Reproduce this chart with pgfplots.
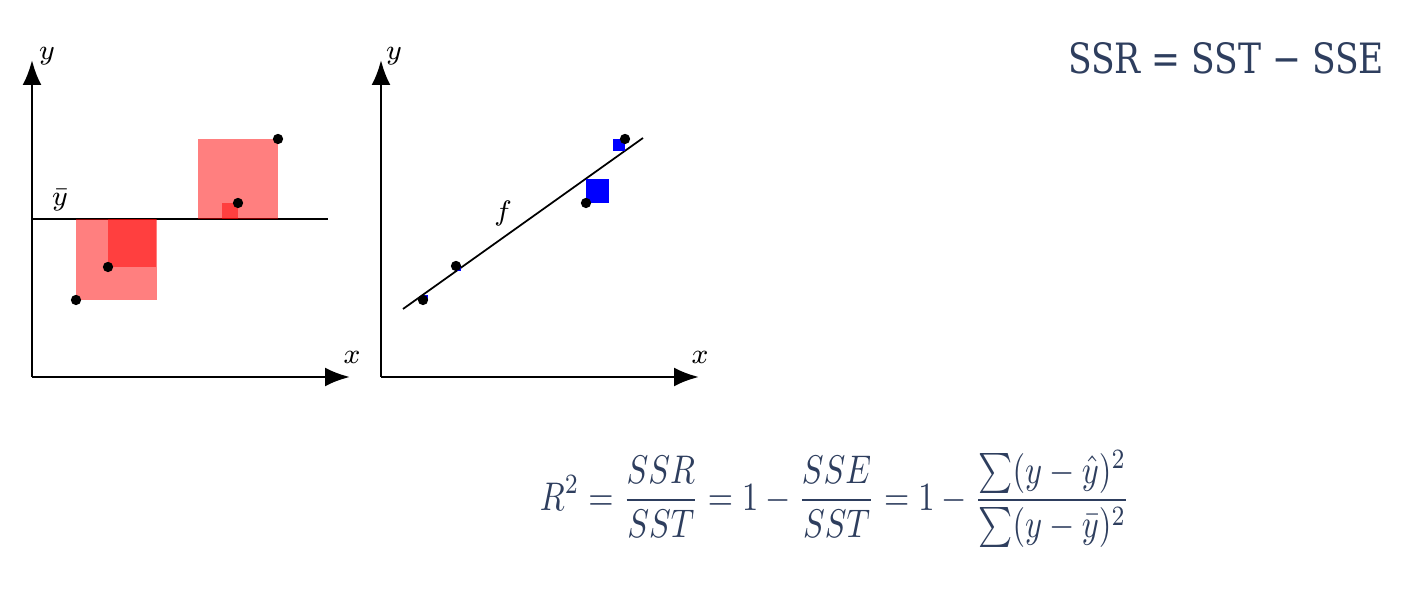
\documentclass[border=0pt]{standalone}
\usepackage{pgfplots}
\pgfplotsset{compat=1.18}
\usepackage{fontspec}
\setmainfont{DejaVu Serif}
\usetikzlibrary{arrows.meta}
\definecolor{navy}{HTML}{2E3E5E}
\begin{document}
\begin{tikzpicture}
\useasboundingbox (0,0) rectangle (14.15,5.90);
\pgfplotsset{diag/.style={
  scale only axis, width=3.18cm, height=3.17cm,
  xmin=0, xmax=318, ymin=0, ymax=317, enlargelimits=false,
  axis lines=left, xtick=\empty, ytick=\empty, clip=false,
  axis line style={line width=0.8pt, -{Latex[length=2.5mm,width=1.9mm]}},
}}
% left diagram
\begin{axis}[diag, anchor=origin, at={(0.32cm,2.13cm)}]
\addplot[black, line width=0.5pt] coordinates {(0,158) (296,158)};
\addplot[only marks, mark=*, mark size=1.25pt, black] coordinates {(44,77) (76,110) (206,174) (246,238)};
\addplot[draw=none, fill=red, fill opacity=0.5] coordinates {(44,77) (125,77) (125,158) (44,158)} -- cycle;
\addplot[draw=none, fill=red, fill opacity=0.5] coordinates {(76,110) (124,110) (124,158) (76,158)} -- cycle;
\addplot[draw=none, fill=red, fill opacity=0.5] coordinates {(190,158) (206,158) (206,174) (190,174)} -- cycle;
\addplot[draw=none, fill=red, fill opacity=0.5] coordinates {(166,158) (246,158) (246,238) (166,238)} -- cycle;
\node[font=\footnotesize] at (axis cs:28,177) {$\bar{y}$};
\node[font=\footnotesize] at (axis cs:15,321) {$y$};
\node[font=\footnotesize] at (axis cs:320,20) {$x$};
\end{axis}
% right diagram
\begin{axis}[diag, anchor=origin, at={(3.81cm,2.13cm)}]
\addplot[black, line width=0.5pt] coordinates {(22,68) (262,239)};
\addplot[only marks, mark=*, mark size=1.25pt, black] coordinates {(42,77) (75,111) (205,174) (244,238)};
\addplot[draw=none, fill=blue] coordinates {(42,77) (47,77) (47,82) (42,82)} -- cycle;
\addplot[draw=none, fill=blue] coordinates {(75,106) (80,106) (80,111) (75,111)} -- cycle;
\addplot[draw=none, fill=blue] coordinates {(205,174) (228,174) (228,198) (205,198)} -- cycle;
\addplot[draw=none, fill=blue] coordinates {(232,226) (244,226) (244,238) (232,238)} -- cycle;
\node[font=\footnotesize] at (axis cs:122,164) {$f$};
\node[font=\footnotesize] at (axis cs:13,321) {$y$};
\node[font=\footnotesize] at (axis cs:319,20) {$x$};
\end{axis}
% formulas
\node[text=navy, anchor=base, inner sep=0pt] at (12.26,5.16) {\resizebox{3.16cm}{0.31cm}{SSR = SST − SSE}};
\node[text=navy, inner sep=0pt] at (8.35,0.91) {\resizebox*{5.9cm}{0.97cm}{$\displaystyle R^2=\frac{SSR}{SST}=1-\frac{SSE}{SST}=1-\frac{\sum(y-\hat{y})^2}{\sum(y-\bar{y})^2}$}};
\end{tikzpicture}
\end{document}
